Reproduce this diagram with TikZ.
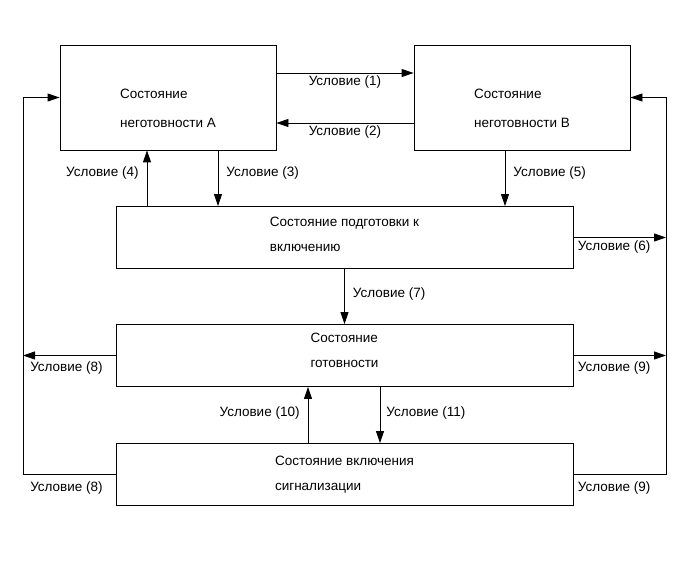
\documentclass[tikz,border=0pt]{standalone}
\usepackage{fontspec}
\setmainfont{Liberation Sans}
\usetikzlibrary{arrows.meta}

\begin{document}
\begin{tikzpicture}[
  x=1pt, y=-1pt,
  state/.style={rectangle, draw, line width=0.9pt, minimum width=216pt,
                minimum height=105pt, align=left, inner sep=0pt,
                font=\fontsize{13.5}{25}\selectfont},
  upper/.style={state, text height=61pt},
  wide/.style={state, minimum width=457pt, minimum height=62pt},
  cond/.style={font=\fontsize{13.5}{15}\selectfont, inner sep=2pt},
  arr/.style={-{Triangle[length=12pt, width=8pt]}, line width=0.9pt},
]
\useasboundingbox (0,0) rectangle (690,561);

% States
\node[upper] (negA) at (168,97.5) {Состояние\\[4pt]неготовности А};
\node[upper] (negB) at (522,97.5) {Состояние\\[4pt]неготовности В};
\node[wide, text height=29pt] (prep) at (344.5,237.5) {Состояние подготовки к\\включению};
\node[wide, text height=25pt] (ready) at (344.5,355.5) {Состояние\\готовности};
\node[wide] (signal) at (344.5,474.5) {Состояние включения\\сигнализации};

% Side buses
\coordinate (lbus) at (23,0);
\coordinate (rbus) at (666,0);

% Between A and B
\draw[arr] ([yshift=24.5pt]negA.east) -- node[cond, below] {Условие (1)} ([yshift=24.5pt]negB.west);
\draw[arr] ([yshift=-25.5pt]negB.west) -- node[cond, below] {Условие (2)} ([yshift=-25.5pt]negA.east);

% Down to preparation
\draw[arr] ([xshift=50pt]negA.south) -- node[cond, right=6pt, pos=0.4] {Условие (3)} ([xshift=-126.5pt]prep.north);
\draw[arr] ([xshift=-197.5pt]prep.north) -- node[cond, left=6pt, pos=0.6] {Условие (4)} ([xshift=-21pt]negA.south);
\draw[arr] ([xshift=-17pt]negB.south) -- node[cond, right=6pt, pos=0.4] {Условие (5)} ([xshift=160.5pt]prep.north);
\draw[arr] (prep.east) -- node[cond, below=1pt, pos=0.44] {Условие (6)} (rbus |- prep.east);

% Readiness
\draw[arr] (prep.south) -- node[cond, right=6pt, pos=0.45] {Условие (7)} (ready.north);
\draw[arr] (ready.west) -- node[cond, below=4pt, pos=0.53] {Условие (8)} (lbus |- ready.west);
\draw[arr] (ready.east) -- node[cond, below=4pt, pos=0.44] {Условие (9)} (rbus |- ready.east);
\draw[arr] ([xshift=-36.5pt]signal.north) -- node[cond, left=6pt, pos=0.54] {Условие (10)} ([xshift=-36.5pt]ready.south);
\draw[arr] ([xshift=35.5pt]ready.south) -- node[cond, right=4pt, pos=0.46] {Условие (11)} ([xshift=35.5pt]signal.north);

% Signalling back to A and B
\draw[arr] (signal.west) -- node[cond, below=5pt, pos=0.53] {Условие (8)} (lbus |- signal.west) |- (negA.west);
\draw[arr] (signal.east) -- node[cond, below=5pt, pos=0.44] {Условие (9)} (rbus |- signal.east) |- (negB.east);

\end{tikzpicture}
\end{document}
